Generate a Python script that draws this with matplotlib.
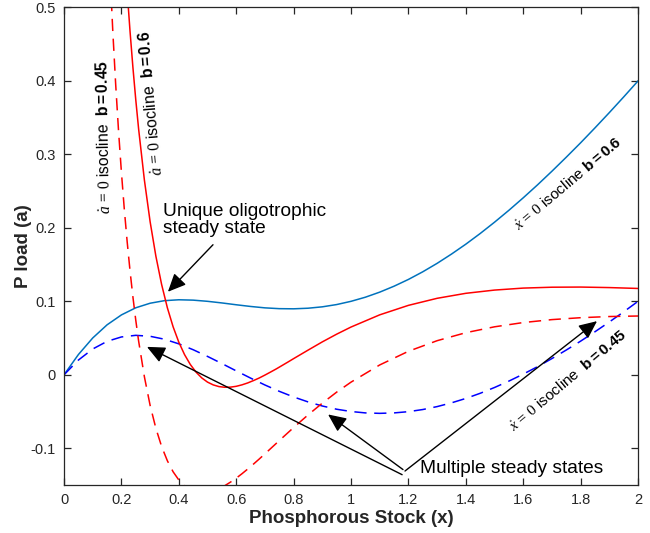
import matplotlib
matplotlib.use("Agg")
import matplotlib.pyplot as plt

plt.rcParams['font.family'] = ['Liberation Sans', 'DejaVu Sans']
plt.rcParams['mathtext.fontset'] = 'custom'
plt.rcParams['mathtext.rm'] = 'Liberation Serif'
plt.rcParams['mathtext.it'] = 'Liberation Serif:italic'
plt.rcParams['mathtext.bf'] = 'Liberation Sans:bold'
plt.rcParams['mathtext.sf'] = 'Liberation Sans'

# ---- data ----
x_blue = [0, 0.05, 0.1, 0.15, 0.2, 0.25, 0.3, 0.35, 0.4, 0.45, 0.5, 0.55, 0.6, 0.65,
          0.7, 0.75, 0.8, 0.85, 0.9, 0.95, 1.0, 1.05, 1.1, 1.15, 1.2, 1.25, 1.3, 1.35,
          1.4, 1.45, 1.5, 1.55, 1.6, 1.65, 1.7, 1.75, 1.8, 1.85, 1.9, 1.95, 2.0]
xdot_b06 = [0, 0.0275, 0.0501, 0.0680, 0.0815, 0.0912, 0.0974, 0.1009, 0.1021, 0.1016,
            0.1000, 0.0978, 0.0953, 0.0930, 0.0911, 0.0900, 0.0898, 0.0906, 0.0925,
            0.0956, 0.1000, 0.1056, 0.1125, 0.1206, 0.1298, 0.1402, 0.1517, 0.1643,
            0.1778, 0.1923, 0.2077, 0.2239, 0.2409, 0.2586, 0.2771, 0.2962, 0.3158,
            0.3361, 0.3569, 0.3782, 0.4000]
xdot_b045 = [0, 0.0200, 0.0351, 0.0455, 0.0515, 0.0537, 0.0524, 0.0484, 0.0421, 0.0341,
             0.0250, 0.0153, 0.0053, -0.0045, -0.0139, -0.0225, -0.0302, -0.0369,
             -0.0425, -0.0469, -0.0500, -0.0519, -0.0525, -0.0519, -0.0502, -0.0473,
             -0.0433, -0.0382, -0.0322, -0.0252, -0.0173, -0.0086, 0.0009, 0.0111,
             0.0221, 0.0337, 0.0458, 0.0586, 0.0719, 0.0857, 0.1000]

x_red06 = [0.2, 0.21, 0.22, 0.23, 0.24, 0.25, 0.26, 0.28, 0.30, 0.32, 0.34, 0.36, 0.38,
           0.40, 0.42, 0.44, 0.46, 0.48, 0.50, 0.52, 0.54, 0.56, 0.58, 0.60, 0.62,
           0.64, 0.66, 0.68, 0.70, 0.72, 0.74, 0.76, 0.78, 0.80, 0.85, 0.9, 0.95, 1.0,
           1.1, 1.2, 1.3, 1.4, 1.5, 1.6, 1.7, 1.8, 1.9, 2.0]
adot_b06 = [0.6505, 0.5827, 0.5220, 0.4675, 0.4185, 0.3742, 0.3342, 0.2651, 0.2083,
            0.1615, 0.1230, 0.0913, 0.0654, 0.0443, 0.0274, 0.0140, 0.0036, -0.0043,
            -0.0100, -0.0138, -0.0161, -0.0170, -0.0168, -0.0157, -0.0137, -0.0111,
            -0.0079, -0.0044, -0.0004, 0.0038, 0.0081, 0.0127, 0.0173, 0.0220, 0.0335,
            0.0448, 0.0553, 0.0650, 0.0816, 0.0945, 0.1041, 0.1109, 0.1153, 0.1180,
            0.1192, 0.1194, 0.1187, 0.1175]

x_red045 = [0.15, 0.16, 0.17, 0.18, 0.19, 0.2, 0.21, 0.22, 0.23, 0.24, 0.25, 0.26, 0.28,
            0.30, 0.32, 0.34, 0.36, 0.38, 0.40, 0.42, 0.44, 0.46, 0.48, 0.50, 0.52,
            0.54, 0.56, 0.58, 0.60, 0.62, 0.64, 0.66, 0.68, 0.70, 0.75, 0.8, 0.85, 0.9,
            0.95, 1.0, 1.1, 1.2, 1.3, 1.4, 1.5, 1.6, 1.7, 1.8, 1.9, 2.0]
adot_b045 = [0.6435, 0.5493, 0.4671, 0.3951, 0.3316, 0.2755, 0.2255, 0.1811, 0.1414,
             0.1060, 0.0742, 0.0457, -0.0027, -0.0417, -0.0728, -0.0976, -0.1170,
             -0.1320, -0.1432, -0.1512, -0.1565, -0.1595, -0.1606, -0.1600, -0.1581,
             -0.1550, -0.1510, -0.1461, -0.1407, -0.1347, -0.1283, -0.1216, -0.1147,
             -0.1076, -0.0896, -0.0718, -0.0547, -0.0386, -0.0236, -0.0100, 0.0134,
             0.0320, 0.0464, 0.0573, 0.0653, 0.0711, 0.0751, 0.0777, 0.0793, 0.0800]

x_ticks = [0, 0.2, 0.4, 0.6, 0.8, 1, 1.2, 1.4, 1.6, 1.8, 2]
x_ticklabels = ['0', '0.2', '0.4', '0.6', '0.8', '1', '1.2', '1.4', '1.6', '1.8', '2']
y_ticks = [-0.1, 0, 0.1, 0.2, 0.3, 0.4, 0.5]
y_ticklabels = ['-0.1', '0', '0.1', '0.2', '0.3', '0.4', '0.5']

# ---- figure ----
fig = plt.figure(figsize=(6.5, 5.33), dpi=100)
ax = fig.add_axes([0.0985, 0.0901, 0.8831, 0.8959])

lw = 1.1
dash = (8.0, 5.0)
ax.plot(x_blue, xdot_b06, color='#0072BD', lw=lw)
ax.plot(x_blue, xdot_b045, color='#0000FF', lw=lw, dashes=dash)
ax.plot(x_red06, adot_b06, color='#FF0000', lw=lw)
ax.plot(x_red045, adot_b045, color='#FF0000', lw=lw, dashes=dash)

ax.set_xlim(0, 2)
ax.set_ylim(-0.15, 0.5)
ax.set_xticks(x_ticks)
ax.set_xticklabels(x_ticklabels)
ax.set_yticks(y_ticks)
ax.set_yticklabels(y_ticklabels)

dark = '#262626'
for s in ax.spines.values():
    s.set_color(dark)
    s.set_linewidth(0.9)
ax.tick_params(direction='in', length=5, width=0.9, colors=dark, labelsize=10.5,
               top=True, right=True, pad=6)
ax.set_xlabel('Phosphorous Stock (x)', fontsize=13.5, fontweight='bold', color=dark, labelpad=2)
ax.set_ylabel('P load (a)', fontsize=13.5, fontweight='bold', color=dark, labelpad=-1)

# rotated isocline labels
ax.text(0.139, 0.324, r'$\dot{a}\,=\,0$ isocline  $\mathbf{b=0.45}$', rotation=91,
        ha='center', va='center', fontsize=11.3, rotation_mode='anchor')
ax.text(0.303, 0.370, r'$\dot{a}\,=\,0$ isocline  $\mathbf{b=0.6}$', rotation=95,
        ha='center', va='center', fontsize=11.3, rotation_mode='anchor')
ax.text(1.756, 0.261, r'$\dot{x}\,=\,0$ isocline $\mathbf{b=0.6}$', rotation=40,
        ha='center', va='center', fontsize=11, rotation_mode='anchor')
ax.text(1.756, -0.007, r'$\dot{x}\,=\,0$ isocline  $\mathbf{b=0.45}$', rotation=40,
        ha='center', va='center', fontsize=11, rotation_mode='anchor')

# annotations
ax.text(0.345, 0.211, 'Unique oligotrophic\nsteady state', ha='left', va='center',
        fontsize=13.8, linespacing=1.0)
ax.text(1.240, -0.128, 'Multiple steady states', ha='left', va='center', fontsize=13.8)

ap = dict(arrowstyle='-|>,head_length=1.1,head_width=0.5', color='k', lw=1.0,
          shrinkA=0, shrinkB=0, mutation_scale=10)
ax.annotate('', xy=(0.362, 0.113), xytext=(0.519, 0.177), arrowprops=ap)
ax.annotate('', xy=(0.289, 0.038), xytext=(1.178, -0.136), arrowprops=ap)
ax.annotate('', xy=(0.920, -0.054), xytext=(1.181, -0.129), arrowprops=ap)
ax.annotate('', xy=(1.857, 0.073), xytext=(1.188, -0.131), arrowprops=ap)

fig.savefig('out.png', dpi=100)
